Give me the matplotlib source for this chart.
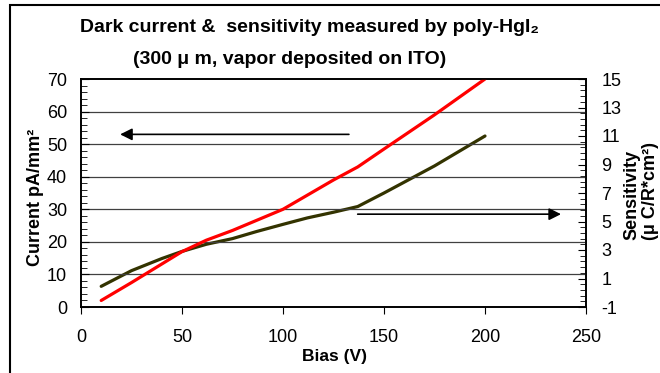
import numpy as np
import matplotlib
matplotlib.use("Agg")
import matplotlib.pyplot as plt
from matplotlib.ticker import MultipleLocator, FixedLocator
from matplotlib.patches import Rectangle

plt.rcParams['font.family'] = ['Liberation Sans', 'DejaVu Sans']
plt.rcParams['axes.unicode_minus'] = False

# data
bias_current = [10, 25, 50, 62, 75, 100, 125, 137, 150, 175, 200]
current = [2.0, 7.5, 17.0, 20.5, 23.5, 30.0, 39.0, 43.0, 48.5, 59.0, 70.0]

bias_sens = [10, 25, 40, 50, 62, 75, 87, 100, 112, 125, 137, 150, 175, 200]
sensitivity = [0.45, 1.55, 2.4, 2.9, 3.4, 3.8, 4.3, 4.8, 5.25, 5.65, 6.05, 7.0, 8.9, 11.0]

W, H = 660, 373
fig = plt.figure(figsize=(W / 100, H / 100), dpi=100)

# outer frame
fig.patches.append(Rectangle((10 / W, -0.1), 1.2, 1 - 5 / H + 0.1,
                             transform=fig.transFigure, fill=False,
                             edgecolor='black', linewidth=1.5))

ax = fig.add_axes([81 / W, 1 - 307 / H, 505 / W, 228 / H])
ax2 = ax.twinx()
ax.set_zorder(ax2.get_zorder() + 1)
ax.patch.set_visible(False)

ax.plot(bias_current, current, color='#ff0000', linewidth=2.3, solid_capstyle='round')
ax2.plot(bias_sens, sensitivity, color='#333300', linewidth=2.3, solid_capstyle='round')

ax.set_xlim(0, 250)
ax.set_ylim(0, 70)
ax2.set_ylim(-1, 15)

ax.xaxis.set_major_locator(MultipleLocator(50))
ax.yaxis.set_major_locator(MultipleLocator(10))
ax.yaxis.set_minor_locator(MultipleLocator(2))
ax2.yaxis.set_major_locator(FixedLocator(np.arange(-1, 16, 2)))
ax2.yaxis.set_minor_locator(FixedLocator(np.arange(-1, 15.01, 0.4)))

for y in range(10, 70, 10):
    ax.axhline(y, color='#404040', linewidth=0.9, zorder=0)

ax.tick_params(axis='x', direction='out', length=5, labelsize=13, pad=11)
ax.tick_params(axis='y', which='both', direction='in', labelsize=13, pad=10)
ax.tick_params(axis='y', which='major', length=6)
ax.tick_params(axis='y', which='minor', length=4)
ax2.tick_params(axis='y', which='both', direction='in', labelsize=13, pad=11)
ax2.tick_params(axis='y', which='major', length=6)
ax2.tick_params(axis='y', which='minor', length=4)

for a in (ax, ax2):
    for s in a.spines.values():
        s.set_linewidth(1.2)

# arrows
ax.annotate('', xy=(18, 53), xytext=(134, 53),
            arrowprops=dict(arrowstyle='-|>', color='black', lw=1.2, mutation_scale=18))
ax.annotate('', xy=(239, 28.5), xytext=(135.6, 28.5),
            arrowprops=dict(arrowstyle='-|>', color='black', lw=1.2, mutation_scale=18))

fig.text(310 / W, 1 - 28 / H,
         'Dark current &  sensitivity measured by poly-HgI\u2082',
         ha='center', va='center', fontsize=14, fontweight='bold')
fig.text(290 / W, 1 - 59 / H,
         '(300 \u03bc m, vapor deposited on ITO)',
         ha='center', va='center', fontsize=14, fontweight='bold')

fig.text(35 / W, 1 - 197 / H, 'Current pA/mm\u00b2', rotation=90,
         ha='center', va='center', fontsize=13, fontweight='bold')
fig.text(334 / W, 1 - 357 / H, 'Bias (V)',
         ha='center', va='center', fontsize=12.5, fontweight='bold')
fig.text(641 / W, 1 - 240 / H, 'Sensitivity\n(\u03bc C/R*cm\u00b2)', rotation=90,
         ha='center', va='bottom', multialignment='left',
         fontsize=13, fontweight='bold', linespacing=1.1)

fig.savefig('out.png', dpi=100)
